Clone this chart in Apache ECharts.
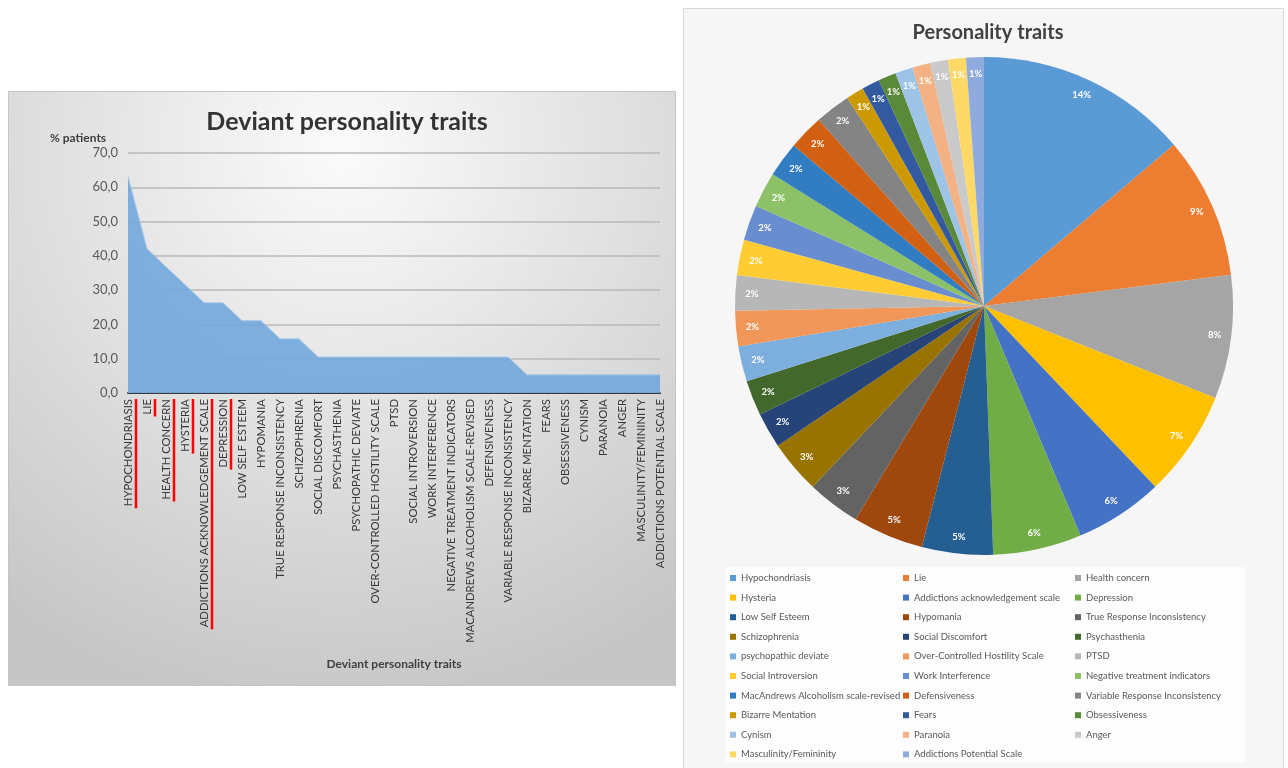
<!DOCTYPE html>
<html>
<head>
<meta charset="utf-8">
<script src="https://cdn.jsdelivr.net/npm/echarts@6/dist/echarts.min.js"></script>
<style>html,body{margin:0;padding:0;background:#fff;}#c{width:1288px;height:768px;}</style>
</head>
<body>
<div id="c"></div>
<script>
const traits = ['Hypochondriasis','Lie','Health concern','Hysteria','Addictions acknowledgement scale','Depression','Low Self Esteem','Hypomania','True Response Inconsistency','Schizophrenia','Social Discomfort','Psychasthenia','psychopathic deviate','Over-Controlled Hostility Scale','PTSD','Social Introversion','Work Interference','Negative treatment indicators','MacAndrews Alcoholism scale-revised','Defensiveness','Variable Response Inconsistency','Bizarre Mentation','Fears','Obsessiveness','Cynism','Paranoia','Anger','Masculinity/Femininity','Addictions Potential Scale'];
const axisLabels = ['HYPOCHONDRIASIS','LIE','HEALTH CONCERN','HYSTERIA','ADDICTIONS ACKNOWLEDGEMENT SCALE','DEPRESSION','LOW SELF ESTEEM','HYPOMANIA','TRUE RESPONSE INCONSISTENCY','SCHIZOPHRENIA','SOCIAL DISCOMFORT','PSYCHASTHENIA','PSYCHOPATHIC DEVIATE','OVER-CONTROLLED HOSTILITY SCALE','PTSD','SOCIAL INTROVERSION','WORK INTERFERENCE','NEGATIVE TREATMENT INDICATORS','MACANDREWS ALCOHOLISM SCALE-REVISED','DEFENSIVENESS','VARIABLE RESPONSE INCONSISTENCY','BIZARRE MENTATION','FEARS','OBSESSIVENESS','CYNISM','PARANOIA','ANGER','MASCULINITY/FEMININITY','ADDICTIONS POTENTIAL SCALE'];
const patientPct = [63.2,42.1,36.8,31.6,26.3,26.3,21.1,21.1,15.8,15.8,10.5,10.5,10.5,10.5,10.5,10.5,10.5,10.5,10.5,10.5,10.5,5.3,5.3,5.3,5.3,5.3,5.3,5.3,5.3];
const underlined = ['HYPOCHONDRIASIS','LIE','HEALTH CONCERN','HYSTERIA','ADDICTIONS ACKNOWLEDGEMENT SCALE','DEPRESSION'];
const sliceColors = ['#5B9BD5','#ED7D31','#A5A5A5','#FFC000','#4472C4','#70AD47','#255E91','#9E480E','#636363','#997300','#264478','#43682B','#7CAFDD','#F1975A','#B7B7B7','#FFCD33','#698ED0','#8CC168','#327DC2','#D26012','#848484','#CC9A00','#335AA1','#5A8A39','#9DC3E6','#F4B183','#C9C9C9','#FFD966','#8FAADC'];

const FONT = 'Lato, "Open Sans", sans-serif';
const chart = echarts.init(document.getElementById('c'), null, {renderer:'canvas'});

const pieData = traits.map((n,i)=>({name:n, value:patientPct[i], itemStyle:{color:sliceColors[i]}}));
const pieLabelData = traits.map((n,i)=>({name:n, value:patientPct[i]}));

function legendFor(col, left){
  return {
    orient:'vertical', left:left, top:567, height:240,
    data: traits.filter((n,i)=>i%3===col),
    icon:'rect', itemWidth:6, itemHeight:6, itemGap:7.6,
    textStyle:{fontFamily:FONT, fontSize:9.5, color:'#595959', lineHeight:12},
    selectedMode:false
  };
}

const option = {
  backgroundColor:'#ffffff',
  animation:false,
  textStyle:{fontFamily:FONT},
  title:[
    {text:'Deviant personality traits', left:342, top:104, textAlign:'center',
     textStyle:{fontFamily:FONT, fontSize:25, fontWeight:'bold', color:'#333333'}},
    {text:'Personality traits', left:983, top:18, textAlign:'center',
     textStyle:{fontFamily:FONT, fontSize:20, fontWeight:'bold', color:'#404040'}}
  ],
  graphic:[
    {type:'rect', z:-10, silent:true, shape:{x:8.5,y:91.5,width:667,height:594},
     style:{stroke:'#c4c4c4', lineWidth:1,
       fill:{type:'radial', x:0.5, y:0.1, r:0.95, colorStops:[{offset:0,color:'#fbfbfb'},{offset:1,color:'#c6c6c6'}]}}},
    {type:'rect', z:-10, silent:true, shape:{x:683.5,y:8.5,width:600,height:770},
     style:{stroke:'#d9d9d9', lineWidth:1, fill:'#f6f6f6'}},
    {type:'rect', z:-9, silent:true, shape:{x:725,y:567,width:520,height:195},
     style:{fill:'#fdfdfd'}},
    {type:'text', z:10, left:50, top:132, style:{text:'% patients', font:'bold 12px '+FONT, fill:'#404040'}}
  ],
  legend:[legendFor(0,725), legendFor(1,898), legendFor(2,1070)],
  grid:{left:128, right:628, top:153, bottom:375, containLabel:false},
  xAxis:{
    type:'category', data:axisLabels, boundaryGap:false,
    axisLine:{lineStyle:{color:'#3a3a3a', width:2}},
    axisTick:{show:false},
    axisLabel:{interval:0, rotate:90, fontSize:11.3, color:'#383838', margin:6, fontFamily:FONT},
    name:'Deviant personality traits', nameLocation:'middle', nameGap:265,
    nameTextStyle:{fontFamily:FONT, fontSize:12, fontWeight:'bold', color:'#404040'}
  },
  yAxis:{
    type:'value', min:0, max:70, interval:10,
    axisLine:{show:false}, axisTick:{show:false},
    axisLabel:{fontSize:13, color:'#595959', margin:10, fontFamily:FONT,
      formatter:v=>v.toFixed(1).replace('.',',')},
    splitLine:{lineStyle:{color:'#b8b8b8', width:1.5}}
  },
  series:[
    {type:'line', data:patientPct, symbol:'none', silent:true,
     lineStyle:{width:1, color:'#a9c8e8'},
     areaStyle:{color:'#74a9db', opacity:0.93, origin:'start'}, z:3},
    {type:'pie', center:[984,306], radius:[0,249], startAngle:90, clockwise:true,
     data:pieData, label:{show:false}, labelLine:{show:false}, silent:true,
     itemStyle:{borderWidth:0}},
    {type:'pie', center:[984,306], radius:[210,249], startAngle:90, clockwise:true,
     data:pieLabelData, silent:true, itemStyle:{color:'rgba(0,0,0,0)', borderWidth:0},
     label:{show:true, position:'inside', color:'#ffffff', fontSize:9.5, fontWeight:'bold', fontFamily:FONT,
       formatter:p=>Math.round(p.percent)+'%'},
     labelLine:{show:false}, z:5}
  ]
};
chart.setOption(option);

// red underline annotations beside chosen axis labels
const cv = document.createElement('canvas').getContext('2d');
cv.font = '11.3px ' + FONT;
const axisY = chart.convertToPixel({yAxisIndex:0}, 0);
const lines = underlined.map(lbl=>{
  const idx = axisLabels.indexOf(lbl);
  const x = chart.convertToPixel({xAxisIndex:0}, idx) + 8;
  const len = cv.measureText(lbl).width + 2;
  return {type:'line', z:100, silent:true,
    shape:{x1:x, y1:axisY+6, x2:x, y2:axisY+6+len},
    style:{stroke:'#ff0000', lineWidth:2.5}};
});
chart.setOption({graphic: option.graphic.concat(lines)});
</script>
</body>
</html>
